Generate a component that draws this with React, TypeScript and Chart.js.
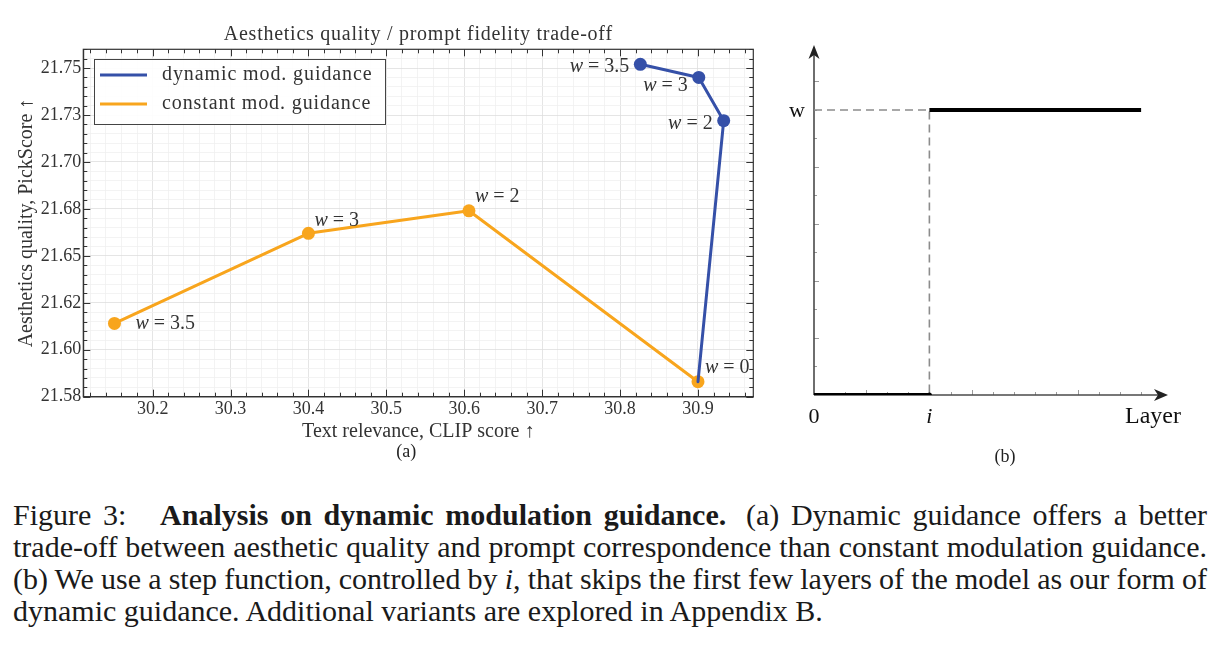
import React, { useEffect, useRef } from 'react';
import { Chart, registerables } from 'chart.js';

Chart.register(...registerables);

// ---- Panel (a): aesthetics / prompt fidelity trade-off ----
const CLIP_DYNAMIC = [30.9, 30.933, 30.901, 30.826];
const PICK_DYNAMIC = [21.583, 21.722, 21.745, 21.752];
const W_DYNAMIC = ['0', '2', '3', '3.5'];

const CLIP_CONSTANT = [30.151, 30.4, 30.606, 30.9];
const PICK_CONSTANT = [21.614, 21.662, 21.674, 21.583];
const W_CONSTANT = ['3.5', '3', '2', ''];

const X_TICKS = [30.2, 30.3, 30.4, 30.5, 30.6, 30.7, 30.8, 30.9];
const X_TICK_LABELS = ['30.2', '30.3', '30.4', '30.5', '30.6', '30.7', '30.8', '30.9'];
const Y_TICKS = [21.575, 21.6, 21.625, 21.65, 21.675, 21.7, 21.725, 21.75];
const Y_TICK_LABELS = ['21.58', '21.60', '21.62', '21.65', '21.68', '21.70', '21.73', '21.75'];
const X_MINOR_STEP = 0.02;
const Y_MINOR_STEP = 0.005;
const X_MIN = 30.111;
const X_MAX = 30.971;
const Y_MIN = 21.575;
const Y_MAX = 21.76;

// where each w-label sits relative to its marker: [dx, dy, align]
const DYNAMIC_LABEL_POS: [number, number, CanvasTextAlign][] = [
  [7, -14, 'left'], [-11, 3, 'right'], [-11, 8, 'right'], [-11, 2, 'right'],
];
const CONSTANT_LABEL_POS: [number, number, CanvasTextAlign][] = [
  [21, 0, 'left'], [6, -13, 'left'], [6, -14, 'left'], [0, 0, 'left'],
];

const BLUE = '#3550a8';
const ORANGE = '#f8a51d';
const INK = '#333333';
const SERIF = '"Liberation Serif", "Times New Roman", serif';

// ---- Panel (b): step schedule over layers ----
const LAYER_MAX = 16.72;
const WEIGHT_MAX = 12.28;
const STEP_OFF_X = [0, 5.45];
const STEP_OFF_Y = [0, 0];
const STEP_ON_X = [5.45, 15.45];
const STEP_ON_Y = [10, 10];
const GUIDE_X = [0, 5.45, 5.45];
const GUIDE_Y = [10, 10, 0];
const LAYER_TICKS = [1.45, 2.45, 3.45, 4.45, 5.45, 6.45, 7.45, 8.45, 9.45, 10.45, 11.45, 12.45, 13.45, 14.45, 15.45];
const LAYER_MAJOR = [2.45, 7.45, 12.45];
const WEIGHT_TICKS = [1, 2, 3, 4, 5, 6, 7, 8, 9, 10, 11];
const WEIGHT_MAJOR = [2, 4, 6, 8, 11];

function findTick(v: number, list: number[]) {
  return list.findIndex((m) => Math.abs(m - v) < 1e-6);
}

function stepTicks(min: number, max: number, step: number) {
  const out: { value: number }[] = [];
  const a = Math.ceil(min / step - 1e-9);
  const b = Math.floor(max / step + 1e-9);
  for (let k = a; k <= b; k++) out.push({ value: +(k * step).toFixed(6) });
  return out;
}

function drawText(
  ctx: CanvasRenderingContext2D, s: string, x: number, y: number, font: string,
  align: CanvasTextAlign = 'center', color = INK, spacing = '0px',
) {
  ctx.save();
  ctx.font = font;
  ctx.fillStyle = color;
  ctx.textAlign = align;
  ctx.textBaseline = 'middle';
  (ctx as any).letterSpacing = spacing;
  ctx.fillText(s, x, y);
  ctx.restore();
}

function seg(ctx: CanvasRenderingContext2D, x1: number, y1: number, x2: number, y2: number) {
  ctx.beginPath();
  ctx.moveTo(x1, y1);
  ctx.lineTo(x2, y2);
  ctx.stroke();
}

// frame on all four sides with inward major/minor ticks
const frameTicksPlugin = {
  id: 'frameTicks',
  afterDatasetsDraw(chart: any) {
    const { ctx, chartArea: ca, scales } = chart;
    const { x, y } = scales;
    ctx.save();
    ctx.strokeStyle = INK;
    ctx.lineWidth = 1.2;
    ctx.strokeRect(ca.left, ca.top, ca.right - ca.left, ca.bottom - ca.top);
    ctx.lineWidth = 1;
    for (const t of x.ticks) {
      const px = Math.round(x.getPixelForValue(t.value)) + 0.5;
      const len = findTick(t.value, X_TICKS) >= 0 ? 7 : 4;
      seg(ctx, px, ca.bottom, px, ca.bottom - len);
      seg(ctx, px, ca.top, px, ca.top + len);
    }
    for (const t of y.ticks) {
      const py = Math.round(y.getPixelForValue(t.value)) + 0.5;
      const len = findTick(t.value, Y_TICKS) >= 0 ? 7 : 4;
      seg(ctx, ca.left, py, ca.left + len, py);
      seg(ctx, ca.right, py, ca.right - len, py);
    }
    ctx.restore();
  },
};

// "w = ..." annotations beside the markers
const wLabelPlugin = {
  id: 'wLabels',
  afterDatasetsDraw(chart: any) {
    const { ctx } = chart;
    chart.data.datasets.forEach((ds: any, di: number) => {
      const meta = chart.getDatasetMeta(di);
      ds.wLabels.forEach((w: string, i: number) => {
        if (!w) return;
        const el = meta.data[i];
        const [dx, dy, align] = ds.labelPos[i];
        const italic = `italic 20px ${SERIF}`;
        const upright = `20px ${SERIF}`;
        const rest = ` = ${w}`;
        ctx.save();
        ctx.font = italic;
        const ww = ctx.measureText('w').width;
        ctx.font = upright;
        const rw = ctx.measureText(rest).width;
        ctx.restore();
        const x0 = align === 'right' ? el.x + dx - ww - rw : el.x + dx;
        drawText(ctx, 'w', x0, el.y + dy, italic, 'left');
        drawText(ctx, rest, x0 + ww, el.y + dy, upright, 'left');
      });
    });
  },
};

// legend box inside the upper-left corner of the plot
const legendBoxPlugin = {
  id: 'legendBox',
  afterDraw(chart: any) {
    const { ctx, chartArea: ca } = chart;
    const bx = ca.left + 10.7;
    const by = ca.top + 9.7;
    const bw = 291;
    const bh = 65;
    ctx.save();
    ctx.fillStyle = 'rgba(255,255,255,0.92)';
    ctx.fillRect(bx, by, bw, bh);
    ctx.strokeStyle = '#444';
    ctx.lineWidth = 1;
    ctx.strokeRect(Math.round(bx) + 0.5, Math.round(by) + 0.5, bw, bh);
    chart.data.datasets.forEach((ds: any, i: number) => {
      const ry = by + 16 + i * 29;
      ctx.strokeStyle = ds.borderColor;
      ctx.lineWidth = 3;
      seg(ctx, bx + 6, ry, bx + 53, ry);
      drawText(ctx, ds.label, bx + 68, ry, `20px ${SERIF}`, 'left', INK, '0.9px');
    });
    ctx.restore();
  },
};

const panelATextPlugin = {
  id: 'panelAText',
  afterDraw(chart: any) {
    const { ctx, chartArea: ca } = chart;
    const cx = (ca.left + ca.right) / 2;
    drawText(ctx, 'Aesthetics quality / prompt fidelity trade-off', cx, 35, `20px ${SERIF}`, 'center', INK, '0.75px');
    drawText(ctx, 'Text relevance, CLIP score \u2191', cx, 432, `20px ${SERIF}`);
    drawText(ctx, '(a)', cx - 12, 452, `18px ${SERIF}`, 'center', '#222');
    ctx.save();
    ctx.translate(27, (ca.top + ca.bottom) / 2);
    ctx.rotate(-Math.PI / 2);
    drawText(ctx, 'Aesthetics quality, PickScore \u2191', 0, 0, `20px ${SERIF}`);
    ctx.restore();
  },
};

function PanelA() {
  const ref = useRef<HTMLCanvasElement>(null);
  useEffect(() => {
    const tickFont = { family: SERIF, size: 18 };
    const gridColor = (list: number[]) => (c: any) =>
      c.tick && findTick(c.tick.value, list) >= 0 ? '#dedede' : '#f0f0f0';
    const chart = new Chart(ref.current!, {
      type: 'line',
      data: {
        datasets: [
          {
            label: 'dynamic mod. guidance',
            data: CLIP_DYNAMIC.map((x, i) => ({ x, y: PICK_DYNAMIC[i] })),
            borderColor: BLUE,
            backgroundColor: BLUE,
            pointBackgroundColor: BLUE,
            borderWidth: 3,
            // the shared w = 0 marker is drawn by the constant series
            pointRadius: W_DYNAMIC.map((w) => (w === '0' ? 0 : 6.5)),
            pointBorderWidth: 0,
            borderJoinStyle: 'round',
            borderCapStyle: 'round',
            tension: 0,
            wLabels: W_DYNAMIC,
            labelPos: DYNAMIC_LABEL_POS,
          } as any,
          {
            label: 'constant mod. guidance',
            data: CLIP_CONSTANT.map((x, i) => ({ x, y: PICK_CONSTANT[i] })),
            borderColor: ORANGE,
            backgroundColor: ORANGE,
            pointBackgroundColor: ORANGE,
            borderWidth: 3,
            pointRadius: 6.5,
            pointBorderWidth: 0,
            borderJoinStyle: 'round',
            borderCapStyle: 'round',
            tension: 0,
            wLabels: W_CONSTANT,
            labelPos: CONSTANT_LABEL_POS,
          } as any,
        ],
      },
      options: {
        animation: false,
        responsive: false,
        events: [],
        layout: { padding: { top: 49.3, right: 21.7, left: 0, bottom: 0 } },
        plugins: { legend: { display: false }, tooltip: { enabled: false }, title: { display: false } },
        scales: {
          x: {
            type: 'linear',
            min: X_MIN,
            max: X_MAX,
            afterBuildTicks: (s: any) => { s.ticks = stepTicks(X_MIN, X_MAX, X_MINOR_STEP); },
            afterFit: (s: any) => { s.height = 73.3; },
            ticks: {
              autoSkip: false,
              maxRotation: 0,
              minRotation: 0,
              padding: 2,
              font: tickFont,
              color: INK,
              callback: (v: any) => {
                const k = findTick(Number(v), X_TICKS);
                return k >= 0 ? X_TICK_LABELS[k] : '';
              },
            },
            grid: { color: gridColor(X_TICKS), lineWidth: 0.8, drawTicks: false },
            border: { color: INK, width: 1.2 },
          },
          y: {
            type: 'linear',
            min: Y_MIN,
            max: Y_MAX,
            afterBuildTicks: (s: any) => { s.ticks = stepTicks(Y_MIN, Y_MAX, Y_MINOR_STEP); },
            afterFit: (s: any) => { s.width = 83.3; },
            ticks: {
              autoSkip: false,
              padding: 2,
              font: tickFont,
              color: INK,
              callback: (v: any) => {
                const k = findTick(Number(v), Y_TICKS);
                return k >= 0 ? Y_TICK_LABELS[k] : '';
              },
            },
            grid: { color: gridColor(Y_TICKS), lineWidth: 0.8, drawTicks: false },
            border: { color: INK, width: 1.2 },
          },
        },
      } as any,
      plugins: [frameTicksPlugin, wLabelPlugin, legendBoxPlugin, panelATextPlugin],
    });
    return () => chart.destroy();
  }, []);
  return (
    <canvas ref={ref} width={775} height={470}
      style={{ position: 'absolute', left: 0, top: 0, width: 775, height: 470 }} />
  );
}

// arrowed axes, small ticks and labels for the step diagram
const stepAxesPlugin = {
  id: 'stepAxes',
  beforeDatasetsDraw(chart: any) {
    const { ctx, chartArea: ca, scales } = chart;
    const { x, y } = scales;
    const ox = x.getPixelForValue(0);
    const oy = y.getPixelForValue(0);
    ctx.save();
    ctx.strokeStyle = '#9a9a9a';
    ctx.lineWidth = 1;
    for (const v of LAYER_TICKS) {
      const px = Math.round(x.getPixelForValue(v)) + 0.5;
      seg(ctx, px, oy, px, oy - (LAYER_MAJOR.includes(v) ? 5 : 3));
    }
    for (const v of WEIGHT_TICKS) {
      const py = Math.round(y.getPixelForValue(v)) + 0.5;
      seg(ctx, ox, py, ox + (WEIGHT_MAJOR.includes(v) ? 5 : 3), py);
    }
    ctx.strokeStyle = '#4a4a4a';
    ctx.lineWidth = 1.6;
    seg(ctx, ox, oy, ca.right - 8, oy);
    seg(ctx, ox, oy, ox, ca.top + 8);
    ctx.fillStyle = '#222';
    // x arrow
    ctx.beginPath();
    ctx.moveTo(ca.right, oy);
    ctx.lineTo(ca.right - 14, oy - 6);
    ctx.lineTo(ca.right - 10, oy);
    ctx.lineTo(ca.right - 14, oy + 6);
    ctx.closePath();
    ctx.fill();
    // y arrow
    ctx.beginPath();
    ctx.moveTo(ox, ca.top);
    ctx.lineTo(ox - 5.5, ca.top + 14);
    ctx.lineTo(ox, ca.top + 10);
    ctx.lineTo(ox + 5.5, ca.top + 14);
    ctx.closePath();
    ctx.fill();
    ctx.restore();
  },
  afterDraw(chart: any) {
    const { ctx, scales } = chart;
    const { x, y } = scales;
    const oy = y.getPixelForValue(0);
    const font = `22px ${SERIF}`;
    drawText(ctx, 'w', 17, y.getPixelForValue(STEP_ON_Y[0]) + 1, font, 'center', '#111');
    drawText(ctx, '0', x.getPixelForValue(0), oy + 22, font, 'center', '#111');
    drawText(ctx, 'i', x.getPixelForValue(STEP_ON_X[0]), oy + 22, `italic 22px ${SERIF}`, 'center', '#111');
    drawText(ctx, 'Layer', 373, oy + 22, `24px ${SERIF}`, 'center', '#111');
    drawText(ctx, '(b)', 225, 427, `18px ${SERIF}`, 'center', '#222');
  },
};

function PanelB() {
  const ref = useRef<HTMLCanvasElement>(null);
  useEffect(() => {
    const chart = new Chart(ref.current!, {
      type: 'line',
      data: {
        datasets: [
          {
            label: 'guidance on',
            data: STEP_ON_X.map((x, i) => ({ x, y: STEP_ON_Y[i] })),
            borderColor: '#000',
            borderWidth: 4,
            pointRadius: 0,
            order: 0,
          },
          {
            label: 'guidance off',
            data: STEP_OFF_X.map((x, i) => ({ x, y: STEP_OFF_Y[i] })),
            borderColor: '#000',
            backgroundColor: '#000',
            borderWidth: 4,
            pointRadius: [0, 2.5],
            pointBorderWidth: 0,
            order: 0,
          },
          {
            label: 'guide',
            data: GUIDE_X.map((x, i) => ({ x, y: GUIDE_Y[i] })),
            borderColor: '#8c8c8c',
            borderWidth: 1.6,
            borderDash: [8, 5],
            pointRadius: 0,
            order: 1,
          },
        ],
      },
      options: {
        animation: false,
        responsive: false,
        events: [],
        layout: { padding: { left: 34, right: 52, top: 15, bottom: 75 } },
        plugins: { legend: { display: false }, tooltip: { enabled: false } },
        scales: {
          x: { type: 'linear', min: 0, max: LAYER_MAX, display: false },
          y: { type: 'linear', min: 0, max: WEIGHT_MAX, display: false },
        },
      } as any,
      plugins: [stepAxesPlugin],
    });
    return () => chart.destroy();
  }, []);
  return (
    <canvas ref={ref} width={440} height={440}
      style={{ position: 'absolute', left: 780, top: 30, width: 440, height: 440 }} />
  );
}

// justified caption lines: spaces start tight and are stretched to the full width
const lineStyle: React.CSSProperties = {
  textAlign: 'justify',
  textAlignLast: 'justify' as any,
  wordSpacing: '-5px',
  whiteSpace: 'nowrap',
};

export default function App() {
  return (
    <div style={{ position: 'absolute', left: 0, top: 0, width: 1225, height: 647, background: '#fff', overflow: 'hidden' }}>
      <PanelA />
      <PanelB />
      <div
        style={{
          position: 'absolute', left: 13, top: 499, width: 1194,
          fontFamily: SERIF, fontSize: 30, lineHeight: '32px', color: '#1a1a1a',
        }}
      >
        <div style={lineStyle}>
          Figure 3:<span style={{ display: 'inline-block', width: 22 }} /> <b>Analysis on dynamic modulation guidance.</b>
          <span style={{ display: 'inline-block', width: 8 }} /> (a) Dynamic guidance offers a better
        </div>
        <div style={lineStyle}>
          trade-off between aesthetic quality and prompt correspondence than constant modulation guidance.
        </div>
        <div style={lineStyle}>
          (b) We use a step function, controlled by <i>i</i>, that skips the first few layers of the model as our form of
        </div>
        <div>dynamic guidance. Additional variants are explored in Appendix B.</div>
      </div>
    </div>
  );
}
